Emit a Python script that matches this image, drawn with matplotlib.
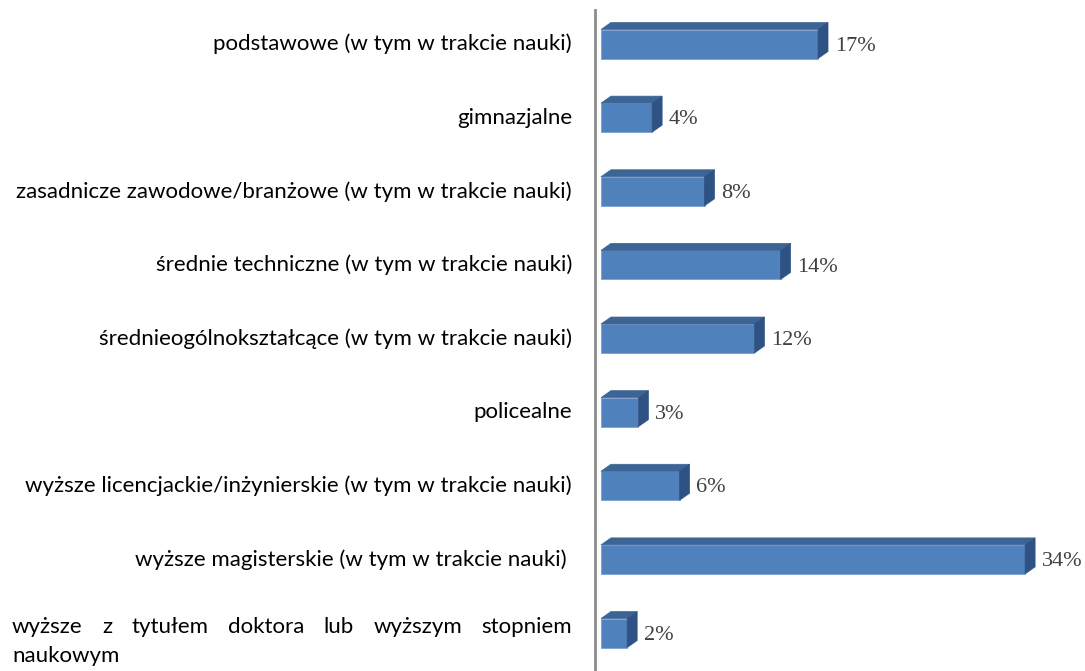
import matplotlib.pyplot as plt
from matplotlib.patches import Polygon

# Dane
categories = [
    "podstawowe (w tym w trakcie nauki)",
    "gimnazjalne",
    "zasadnicze zawodowe/branżowe (w tym w trakcie nauki)",
    "średnie techniczne (w tym w trakcie nauki)",
    "średnieogólnokształcące (w tym w trakcie nauki)",
    "policealne",
    "wyższe licencjackie/inżynierskie (w tym w trakcie nauki)",
    "wyższe magisterskie (w tym w trakcie nauki) ",
    "wyższe z tytułem doktora lub wyższym stopniem naukowym",
]
values = [17.4, 4.1, 8.3, 14.4, 12.3, 3.0, 6.3, 34.0, 2.1]
value_labels = ["17%", "4%", "8%", "14%", "12%", "3%", "6%", "34%", "2%"]

W, H = 1085, 671
fig = plt.figure(figsize=(W / 100, H / 100), dpi=100)
ax = fig.add_axes([595 / W, 0, 490 / W, 661 / H])

front = "#4F81BD"
top = "#3C6596"
side = "#2E5283"
bar_h = 0.394
dx = 0.8      # głębokość 3D w poziomie
dy = 0.095    # głębokość 3D w pionie

for i, v in enumerate(values):
    y0 = i - bar_h / 2
    y1 = i + bar_h / 2
    ax.barh(i, v, height=bar_h, color=front, edgecolor="#7EA1CF", linewidth=0.6, zorder=2)
    ax.add_patch(Polygon([(0, y0), (v, y0), (v + dx, y0 - dy), (dx, y0 - dy)],
                         closed=True, facecolor=top, edgecolor=top, linewidth=0.5, zorder=3))
    ax.add_patch(Polygon([(v, y0), (v + dx, y0 - dy), (v + dx, y1 - dy), (v, y1)],
                         closed=True, facecolor=side, edgecolor=side, linewidth=0.5, zorder=3))
    ax.text(v + dx + 0.55, i + 0.03, value_labels[i], va="center", ha="left",
            fontsize=16, family="Liberation Serif", color="#404040")

ax.set_xlim(-0.48, 38.8)
ax.set_ylim(8.516, -0.462)
ax.set_xticks([])
ax.set_yticks([])
for s in ["top", "right", "bottom"]:
    ax.spines[s].set_visible(False)
ax.spines["left"].set_color("#8C8C8C")
ax.spines["left"].set_linewidth(2)

# Etykiety kategorii (po lewej stronie osi)
label_font = dict(fontsize=16, family="Lato", color="black")
tr = ax.get_yaxis_transform()
for i, c in enumerate(categories[:-1]):
    ax.text(-23 / 490, i, c, ha="right", va="center", transform=tr, **label_font)

# Ostatnia etykieta - wyjustowana w dwóch wierszach
words = categories[-1].split()
first, second = words[:-1], words[-1]
fig.canvas.draw()
r = fig.canvas.get_renderer()
objs = [fig.text(0, 1 - 627 / H, w, ha="left", va="center", **label_font) for w in first]
widths = [o.get_window_extent(r).width for o in objs]
left, right = 12, 572
gap = (right - left - sum(widths)) / (len(words) - 2)
x = left
for o, w in zip(objs, widths):
    o.set_x(x / W)
    x += w + gap
fig.text(left / W, 1 - 656 / H, second, ha="left", va="center", **label_font)

plt.savefig("out.png", dpi=100)
